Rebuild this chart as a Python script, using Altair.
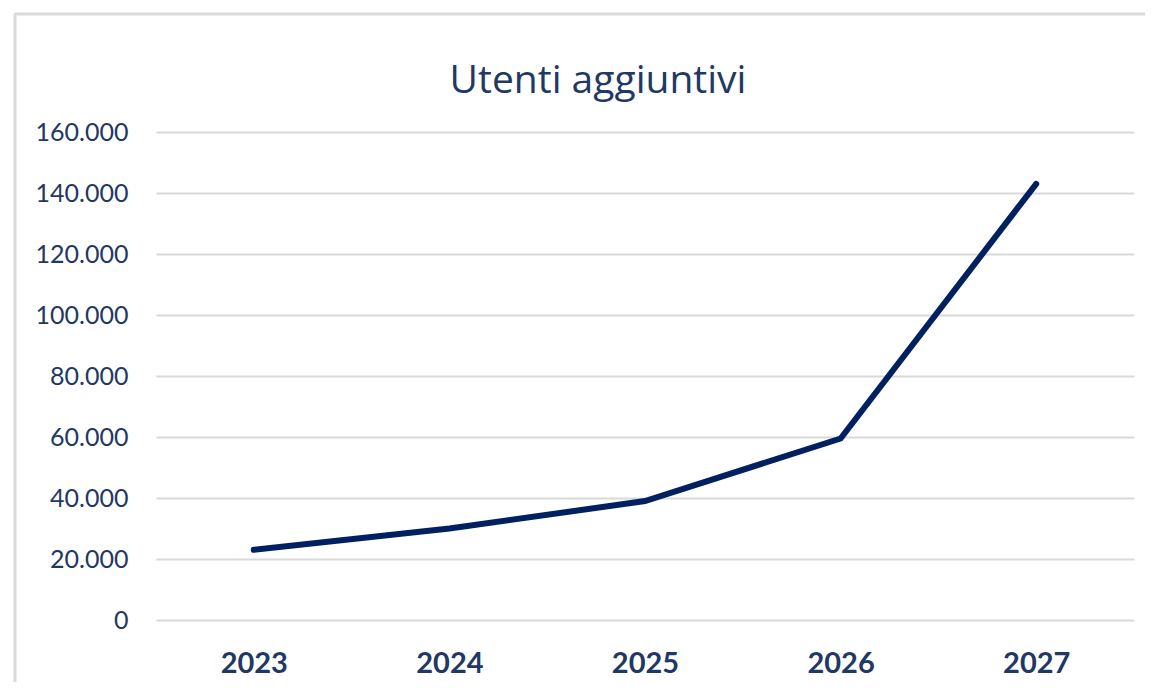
import altair as alt
import pandas as pd

years = ["2023", "2024", "2025", "2026", "2027"]
users = [23000, 30000, 39000, 59500, 143000]
title_text = ["Utenti aggiuntivi"]

df = pd.DataFrame({"anno": years, "utenti": users})
tdf = pd.DataFrame({"t": title_text})

NAVY_TEXT = "#1F3864"
LINE = "#002060"
GRID = "#D9D9D9"
FONT = "Lato"

line = alt.Chart(df).mark_line(
    color=LINE, strokeWidth=6, strokeCap="round", strokeJoin="miter"
).encode(
    x=alt.X("anno:O", sort=years, title=None,
            scale=alt.Scale(padding=0.5),
            axis=alt.Axis(labelAngle=0, labelFont=FONT, labelFontSize=29,
                          labelFontWeight="bold", labelColor=NAVY_TEXT,
                          labelPadding=29, domain=False, ticks=False, grid=False)),
    y=alt.Y("utenti:Q", title=None,
            scale=alt.Scale(domain=[0, 160000], nice=False),
            axis=alt.Axis(values=[0, 20000, 40000, 60000, 80000, 100000, 120000, 140000, 160000],
                          labelExpr="replace(format(datum.value, ','), ',', '.')",
                          labelFont=FONT, labelFontSize=25, labelColor=NAVY_TEXT,
                          labelPadding=28, domain=False, ticks=False,
                          grid=True, gridColor=GRID, gridWidth=2)),
)

# chart frame (left and top border)
frame_left = alt.Chart(tdf).mark_rule(color=GRID, strokeWidth=3, clip=False).encode(
    x=alt.value(-141), y=alt.value(-118), y2=alt.value(560)
)
frame_top = alt.Chart(tdf).mark_rule(color=GRID, strokeWidth=3, clip=False).encode(
    x=alt.value(-142), x2=alt.value(1000), y=alt.value(-118)
)
title = alt.Chart(tdf).mark_text(
    font="Open Sans", fontSize=39, color=NAVY_TEXT, align="center", baseline="alphabetic"
).encode(text="t:N", x=alt.value(442), y=alt.value(-39))

chart = alt.layer(frame_left, frame_top, title, line).properties(
    width=978,
    height=488,
    autosize=alt.AutoSizeParams(type="none"),
    padding={"left": 148, "top": 124, "right": 11, "bottom": 62},
).configure(background="white").configure_view(strokeWidth=0)

chart.save("out.html", embed_options={"renderer": "svg", "actions": False})
